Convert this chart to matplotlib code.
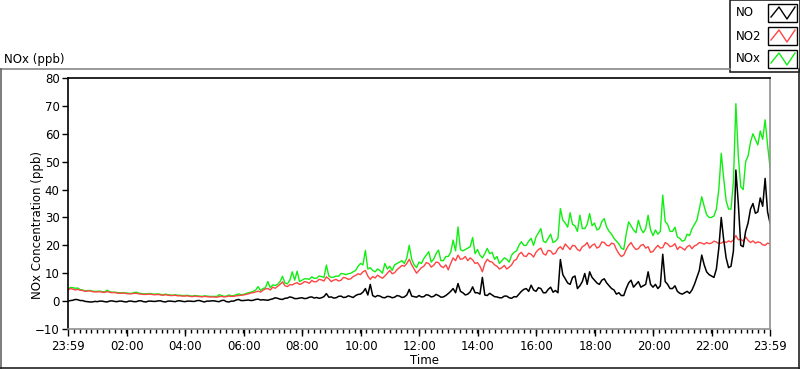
import numpy as np
import matplotlib
matplotlib.use("Agg")
import matplotlib.pyplot as plt
from matplotlib.patches import Rectangle
from matplotlib.lines import Line2D

# 5-minute samples starting at 23:59 of the previous day (one row per hour)
no = [
    0.0, 0.2, 0.3, 0.6, 0.5, 0.2, 0.2, -0.1, -0.2, -0.3, -0.3, -0.1,
    -0.2, 0.0, 0.0, -0.2, -0.3, 0.0, 0.1, -0.1, -0.2, 0.0, 0.0, -0.2,
    -0.3, 0.0, 0.0, -0.2, -0.2, 0.1, 0.1, -0.2, -0.3, 0.0, 0.0, -0.1,
    -0.1, 0.1, 0.1, -0.2, -0.3, 0.0, 0.0, -0.1, -0.2, 0.1, 0.1, -0.1,
    -0.2, 0.0, 0.0, -0.1, -0.1, 0.2, 0.2, -0.1, -0.3, 0.0, 0.0, 0.1,
    0.1, -0.1, -0.2, 0.2, 0.3, -0.2, -0.3, 0.0, 0.0, 0.4, 0.6, 0.2,
    0.2, 0.3, 0.4, 0.2, 0.3, 0.6, 0.7, 0.4, 0.5, 0.4, 0.3, 0.6,
    0.8, 1.2, 1.0, 0.7, 0.6, 1.0, 1.1, 1.5, 1.3, 0.9, 0.9, 1.1,
    1.2, 0.9, 1.0, 1.4, 1.5, 1.1, 1.3, 1.0, 1.2, 1.6, 2.7, 1.4,
    1.5, 1.1, 1.2, 1.7, 1.8, 1.3, 1.4, 1.9, 1.6, 1.3, 2.0, 2.4,
    2.5, 3.2, 4.5, 2.2, 6.0, 2.0, 1.5, 2.0, 1.8, 1.3, 1.2, 1.7,
    1.6, 1.2, 1.4, 2.0, 1.8, 1.3, 1.5, 2.2, 4.2, 1.8, 1.6, 1.4,
    2.0, 1.5, 1.6, 2.3, 2.1, 1.5, 1.7, 2.4, 2.0, 1.4, 1.5, 2.0,
    2.7, 3.5, 4.5, 3.0, 6.3, 3.5, 3.0, 2.2, 2.5, 3.3, 5.1, 3.0,
    3.0, 2.5, 8.5, 2.2, 2.0, 2.8, 2.2, 1.6, 1.5, 1.2, 1.2, 1.8,
    1.8, 1.2, 1.0, 1.6, 1.5, 2.5, 3.5, 4.2, 4.5, 3.5, 5.7, 4.0,
    3.5, 4.8, 4.5, 3.0, 3.0, 4.2, 5.0, 3.2, 3.8, 3.0, 14.9, 9.5,
    8.0, 6.5, 6.0, 8.5, 9.0, 4.5, 5.5, 7.0, 9.9, 6.0, 10.5, 8.5,
    7.5, 6.5, 6.0, 7.5, 8.0, 6.5, 5.5, 4.5, 4.0, 2.5, 3.0, 2.0,
    2.0, 4.5, 6.5, 7.5, 5.0, 6.0, 7.0, 5.0, 5.5, 6.0, 10.5, 6.0,
    5.0, 6.0, 4.5, 5.5, 16.8, 7.0, 6.0, 4.5, 4.5, 5.5, 3.5, 2.8,
    2.5, 3.0, 3.5, 2.8, 4.0, 6.0, 8.5, 11.0, 16.5, 13.0, 10.5, 9.5,
    9.0, 8.5, 11.5, 19.0, 30.0, 22.0, 15.5, 12.0, 12.5, 18.0, 47.0, 35.0,
    20.0, 19.5, 25.0, 28.0, 33.0, 35.0, 31.5, 32.0, 37.0, 34.0, 44.0, 32.0,
    28.0,
]

no2 = [
    4.0, 4.5, 4.3, 4.0, 4.2, 3.9, 3.8, 3.5, 3.6, 3.7, 3.4, 3.3,
    3.3, 3.4, 3.2, 3.1, 3.4, 3.2, 3.0, 3.1, 2.9, 2.8, 2.8, 2.9,
    2.7, 2.6, 2.6, 2.8, 2.8, 2.6, 2.5, 2.4, 2.4, 2.5, 2.5, 2.3,
    2.3, 2.4, 2.2, 2.1, 2.3, 2.1, 2.0, 2.0, 2.1, 1.9, 1.9, 1.8,
    1.8, 1.9, 1.7, 1.6, 1.8, 1.7, 1.6, 1.5, 1.7, 1.6, 1.5, 1.5,
    1.5, 1.4, 1.6, 1.7, 1.5, 1.6, 1.8, 1.7, 1.7, 1.9, 2.0, 2.1,
    2.2, 2.4, 2.6, 2.9, 3.0, 3.3, 3.6, 3.2, 3.9, 4.4, 4.5, 4.0,
    5.0, 4.6, 5.3, 6.0, 6.9, 5.5, 5.2, 5.9, 5.8, 6.3, 6.6, 6.0,
    6.3, 7.0, 6.8, 6.4, 7.4, 6.9, 7.0, 7.8, 7.6, 7.2, 8.7, 8.0,
    7.0, 7.5, 7.8, 7.2, 7.5, 8.5, 8.3, 7.8, 8.0, 8.8, 9.2, 9.8,
    9.5, 10.5, 11.0, 9.0, 7.8, 8.8, 8.3, 9.3, 8.7, 8.2, 9.0, 10.0,
    11.0, 9.8, 10.2, 11.3, 12.0, 12.8, 12.5, 13.5, 15.0, 13.0, 11.5, 10.0,
    11.0, 12.0, 12.5, 13.8, 13.5, 12.2, 12.8, 14.0, 13.8, 12.5, 12.0, 13.0,
    11.2, 13.5, 15.5, 14.5, 16.5, 15.0, 15.2, 16.0, 14.5, 15.5, 14.8, 13.5,
    13.8, 12.5, 10.5, 13.5, 15.0, 14.2, 14.0, 13.0, 12.5, 11.5, 12.0, 12.8,
    11.5, 12.2, 13.0, 14.5, 15.0, 16.8, 17.5, 16.2, 16.0, 17.2, 16.8, 15.8,
    17.5, 18.5, 19.0, 17.0, 16.5, 18.2, 18.0, 16.8, 17.2, 18.8, 19.5, 18.5,
    20.5, 19.5, 18.5, 20.0, 19.8, 18.5, 18.0, 19.5, 20.0, 21.0, 19.0, 20.0,
    20.5, 19.0, 19.5, 21.2, 21.0, 20.0, 19.8, 20.8, 20.5, 18.5, 17.0, 16.0,
    16.5, 18.5, 20.0, 21.0, 19.5, 18.5, 18.8, 20.0, 20.3, 19.0, 19.5, 17.5,
    17.8, 19.0, 20.0, 19.0, 19.2, 21.0, 20.5, 19.5, 19.8, 20.6, 18.5, 19.5,
    19.0, 18.3, 19.5, 20.0, 18.8, 19.8, 20.2, 21.0, 20.8, 20.4, 21.0, 20.6,
    20.8, 21.5, 21.2, 20.6, 20.8, 21.4, 21.0, 21.6, 21.2, 22.0, 23.5, 22.0,
    22.2, 21.5, 23.0, 21.8, 21.0, 21.6, 20.8, 21.2, 21.0, 20.2, 20.0, 20.8,
    20.5,
]

nox = [
    4.3, 4.9, 4.8, 4.6, 4.7, 4.1, 4.0, 3.6, 3.8, 3.8, 3.6, 3.5,
    3.5, 3.6, 3.4, 3.3, 3.9, 3.4, 3.2, 3.2, 3.1, 3.0, 3.0, 3.0,
    2.9, 2.8, 2.8, 3.0, 3.2, 2.9, 2.7, 2.6, 2.6, 2.7, 2.7, 2.5,
    2.5, 2.6, 2.4, 2.3, 2.5, 2.3, 2.2, 2.1, 2.3, 2.1, 2.1, 2.0,
    2.0, 2.1, 1.9, 1.8, 2.0, 1.9, 1.8, 1.7, 1.9, 1.8, 1.7, 1.7,
    1.7, 1.6, 2.3, 2.0, 1.7, 1.8, 2.2, 1.9, 2.0, 2.3, 2.6, 2.3,
    2.4, 2.7, 3.0, 3.2, 3.5, 4.0, 5.2, 3.8, 4.5, 4.8, 7.0, 4.8,
    5.8, 5.6, 6.0, 7.0, 8.9, 6.5, 6.2, 7.5, 10.5, 7.5, 10.7, 7.0,
    7.5, 8.0, 8.0, 7.8, 8.7, 8.2, 8.2, 9.0, 8.8, 8.5, 12.9, 9.0,
    8.5, 8.6, 9.0, 8.9, 9.9, 9.8, 9.5, 9.8, 10.0, 10.5, 11.0, 12.5,
    13.5, 13.0, 18.2, 11.5, 12.0, 11.0, 10.5, 11.5, 11.0, 10.0, 13.5, 11.5,
    12.5, 11.0, 13.0, 13.5, 14.0, 14.5, 13.5, 15.5, 20.0, 15.0, 13.0, 12.0,
    14.0, 13.5, 15.3, 16.5, 17.7, 14.0, 15.0, 17.0, 18.3, 14.5, 14.5, 16.0,
    16.0, 17.5, 21.9, 18.0, 26.6, 18.5, 18.0, 18.5, 19.0, 19.5, 22.8, 17.0,
    18.5, 16.5, 15.5, 17.0, 18.9, 17.0, 17.5, 15.0, 16.0, 13.5, 14.5, 15.5,
    15.0, 14.0, 16.5, 17.5, 18.0, 20.0, 21.3, 20.0, 20.0, 21.5, 22.5, 20.0,
    23.0, 24.5, 26.0, 21.5, 21.0, 22.5, 24.0, 21.0, 21.5, 22.5, 33.2, 29.0,
    28.0, 26.5, 31.7, 27.5, 27.0, 25.0, 30.8, 26.0, 26.0, 27.5, 31.4, 27.0,
    28.0, 25.5, 26.0, 28.5, 29.6, 26.5, 25.0, 24.0, 22.5, 21.5, 20.5, 19.0,
    18.5, 24.0, 28.4, 27.0, 25.5, 24.5, 29.0, 26.0, 24.5, 26.0, 30.8, 25.5,
    23.5, 25.5, 24.0, 25.0, 38.0, 28.5, 27.5, 25.0, 25.0, 26.5, 23.0, 22.5,
    21.5, 21.8, 24.0, 23.5, 26.0, 27.5, 29.0, 33.0, 37.4, 34.0, 31.0, 30.0,
    30.0, 30.5, 33.0, 40.0, 53.0, 44.0, 36.0, 33.0, 33.0, 43.0, 70.8, 52.0,
    41.0, 40.0, 50.0, 52.0, 57.0, 60.0, 58.0, 56.0, 61.0, 58.0, 65.0, 56.0,
    48.0,
]

tick_labels = ["23:59", "02:00", "04:00", "06:00", "08:00", "10:00", "12:00",
               "14:00", "16:00", "18:00", "20:00", "22:00", "23:59"]

t = np.arange(len(no)) / 12.0 - 1 / 60.0  # hours

plt.rcParams['font.family'] = ['DejaVu Sans']
fig = plt.figure(figsize=(8, 3.69), dpi=100)
ax = fig.add_axes([68 / 800, 1 - 329 / 369, 702 / 800, 251 / 369])

ax.plot(t, nox, color='#11ee11', lw=1.0)
ax.plot(t, no2, color='#ff4444', lw=1.0)
ax.plot(t, no, color='black', lw=1.1)

ax.set_xlim(-1 / 60, 24 - 1 / 60)
ax.set_ylim(-10, 80)
ax.set_yticks(np.arange(-10, 81, 10))
ax.set_xticks([-1 / 60] + list(range(2, 23, 2)) + [24 - 1 / 60])
ax.set_xticklabels(tick_labels)
ax.set_xticks(np.arange(0, 24.01, 0.2) - 1 / 60, minor=True)
ax.tick_params(axis='both', labelsize=8.5, colors='black', width=1)
ax.tick_params(axis='x', which='major', length=5, pad=3)
ax.tick_params(axis='x', which='minor', length=3, width=1)
ax.tick_params(axis='y', length=4, pad=2)
ax.spines['left'].set_color('black')
ax.spines['top'].set_color('black')
ax.spines['right'].set_color('#909090')
ax.spines['bottom'].set_color('#909090')
for s in ax.spines.values():
    s.set_linewidth(1.2)

# outer frame of the graph panel
fig.add_artist(Line2D([0, 730 / 800], [1 - 69 / 369, 1 - 69 / 369], color='#888888', lw=1.2))
fig.add_artist(Line2D([0.5 / 800, 0.5 / 800], [0, 1 - 69 / 369], color='#666666', lw=1.2))
fig.add_artist(Line2D([0, 1], [0.7 / 369, 0.7 / 369], color='#222222', lw=1.2))
fig.add_artist(Line2D([799.3 / 800, 799.3 / 800], [0, 1 - 69 / 369], color='#222222', lw=1.2))

fig.text(4 / 800, 1 - 60 / 369, "NOx (ppb)", fontsize=8.5, va='center', ha='left')
fig.text(38 / 800, 1 - 225 / 369, "NOx Concentration (ppb)", fontsize=8.5,
         rotation=90, va='center', ha='center')
fig.text(425 / 800, 1 - 361 / 369, "Time", fontsize=8.5, va='center', ha='center')

# legend box
fig.add_artist(Rectangle((730 / 800, 1 - 72 / 369), 70 / 800, 72 / 369,
                         facecolor='white', edgecolor='#222222', lw=1.2))
names = ["NO", "NO2", "NOx"]
cols = ['black', '#ff4444', '#11ee11']
for i, (nm, c) in enumerate(zip(names, cols)):
    yc = 13 + 23 * i
    fig.text(736 / 800, 1 - yc / 369, nm, fontsize=8.5, va='center', ha='left')
    fig.add_artist(Rectangle((768 / 800, 1 - (yc + 9) / 369), 29 / 800, 18 / 369,
                             facecolor='white', edgecolor='black', lw=1.0))
    zx = np.array([771, 779, 787, 795]) / 800
    zy = 1 - np.array([yc + 4, yc - 6, yc + 6, yc - 6]) / 369
    fig.add_artist(Line2D(zx, zy, color=c, lw=1.0))

fig.savefig("out.png", dpi=100)
